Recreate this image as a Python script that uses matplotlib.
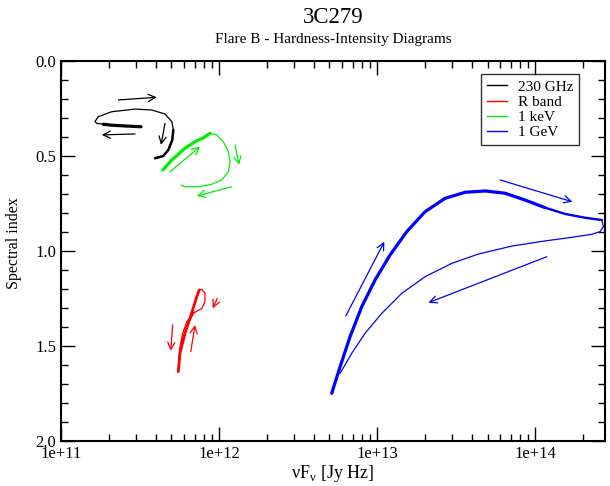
#!/usr/bin/env python3
import numpy as np
import matplotlib
matplotlib.use("Agg")
import matplotlib.pyplot as plt
from matplotlib.ticker import FuncFormatter, LogLocator, MultipleLocator, NullFormatter

plt.rcParams["font.family"] = ["Liberation Serif", "DejaVu Serif"]
plt.rcParams["mathtext.fontset"] = "custom"
plt.rcParams["mathtext.rm"] = "Liberation Serif"

# ---- data (log10 of nuFnu, spectral index) ----
mm_logf = [11.506, 11.405, 11.321, 11.268, 11.226, 11.215, 11.236, 11.321, 11.468,
           11.574, 11.658, 11.701, 11.711, 11.704, 11.679, 11.647, 11.595]
mm_alpha = [0.346, 0.342, 0.338, 0.333, 0.328, 0.319, 0.293, 0.267, 0.253,
            0.258, 0.279, 0.319, 0.363, 0.416, 0.468, 0.500, 0.512]

xr_logf = [11.644, 11.701, 11.785, 11.848, 11.901, 11.943, 11.985, 12.027,
           12.059, 12.070, 12.059, 12.017, 11.954, 11.869, 11.785, 11.759]
xr_alpha = [0.574, 0.521, 0.459, 0.425, 0.404, 0.381, 0.389, 0.425,
            0.477, 0.530, 0.583, 0.626, 0.649, 0.662, 0.662, 0.653]

opt_logf = [11.742, 11.753, 11.785, 11.827, 11.859, 11.875, 11.891, 11.911,
            11.911, 11.891, 11.837, 11.796, 11.770, 11.753, 11.744,
            11.759, 11.791, 11.842]
opt_alpha = [1.635, 1.537, 1.432, 1.326, 1.241, 1.205, 1.202, 1.223,
             1.267, 1.302, 1.328, 1.372, 1.433, 1.504, 1.600,
             1.495, 1.405, 1.321]

gam_logf = [12.713, 12.766, 12.829, 12.903, 12.987, 13.082, 13.188, 13.304,
            13.430, 13.557, 13.684, 13.810, 13.937, 14.063, 14.190, 14.316,
            14.422, 14.432, 14.411, 14.359, 14.232, 14.063, 13.853, 13.641,
            13.473, 13.304, 13.156, 13.030, 12.924, 12.840, 12.766]
gam_alpha = [1.749, 1.609, 1.451, 1.293, 1.153, 1.021, 0.898, 0.793,
             0.723, 0.691, 0.684, 0.696, 0.732, 0.772, 0.805, 0.825,
             0.837, 0.872, 0.898, 0.912, 0.928, 0.947, 0.974, 1.016,
             1.065, 1.135, 1.223, 1.328, 1.433, 1.538, 1.644]

# arrows: (logf start, alpha start, logf end, alpha end)
mm_arrows = [(11.363, 0.205, 11.606, 0.191),
             (11.658, 0.328, 11.633, 0.442),
             (11.468, 0.384, 11.258, 0.389)]
xr_arrows = [(11.690, 0.583, 11.880, 0.451),
             (12.101, 0.442, 12.127, 0.547),
             (12.080, 0.662, 11.859, 0.711)]
opt_arrows = [(11.707, 1.389, 11.694, 1.526),
              (11.821, 1.530, 11.848, 1.389),
              (11.989, 1.249, 11.960, 1.302)]
gam_arrows = [(12.802, 1.342, 13.046, 0.951),
              (13.778, 0.626, 14.236, 0.741),
              (14.074, 1.030, 13.325, 1.272)]

labels = ["230 GHz", "R band", "1 keV", "1 GeV"]
colors = ["black", "red", "#00ee00", "blue"]


def draw_track(ax, logf, alpha, color, thick, lw_thin=0.9):
    x = 10 ** np.array(logf)
    y = np.array(alpha)
    ax.plot(x, y, color=color, lw=lw_thin, solid_capstyle="round",
            solid_joinstyle="round")
    for sl, lw in thick:
        ax.plot(x[sl], y[sl], color=color, lw=lw, solid_capstyle="round",
                solid_joinstyle="round")


def draw_arrows(ax, arrows, color):
    for x0, y0, x1, y1 in arrows:
        ax.annotate("", xy=(10 ** x1, y1), xytext=(10 ** x0, y0),
                    arrowprops=dict(arrowstyle="->", color=color, lw=0.9,
                                    mutation_scale=13, shrinkA=0, shrinkB=0))


fig = plt.figure(figsize=(6.1, 4.86), dpi=100)
ax = fig.add_axes([0.1, 0.0926, 0.892, 0.7819])

draw_track(ax, mm_logf, mm_alpha, colors[0],
           [(slice(0, 4), 2.3), (slice(12, 17), 1.8)])
draw_track(ax, opt_logf, opt_alpha, colors[1], [(slice(0, 6), 2.0)])
draw_track(ax, xr_logf, xr_alpha, colors[2], [(slice(0, 6), 2.3)])
draw_track(ax, gam_logf, gam_alpha, colors[3],
           [(slice(0, 14), 2.3), (slice(13, 17), 1.7)])

draw_arrows(ax, mm_arrows, colors[0])
draw_arrows(ax, opt_arrows, colors[1])
draw_arrows(ax, xr_arrows, colors[2])
draw_arrows(ax, gam_arrows, colors[3])

for lab, c in zip(labels, colors):
    ax.plot([], [], color=c, lw=1.0, label=lab)

ax.set_xscale("log")
ax.set_xlim(1e11, 10 ** 14.443)
ax.set_ylim(2.0, 0.0)
ax.xaxis.set_major_locator(LogLocator(base=10, numticks=10))
ax.xaxis.set_minor_locator(LogLocator(base=10, subs=np.arange(2, 10), numticks=20))
ax.xaxis.set_major_formatter(FuncFormatter(lambda v, p: "1e+%d" % round(np.log10(v))))
ax.xaxis.set_minor_formatter(NullFormatter())
ax.yaxis.set_major_locator(MultipleLocator(0.5))
ax.yaxis.set_minor_locator(MultipleLocator(0.1))
ax.yaxis.set_major_formatter(FuncFormatter(lambda v, p: "%.1f" % v))

ax.tick_params(which="both", direction="in", top=True, right=True, labelsize=12)
ax.tick_params(which="major", length=10, width=1)
ax.tick_params(which="minor", length=5, width=1)
for s in ax.spines.values():
    s.set_linewidth(1.5)

ax.set_xlabel(r"νF$_\mathregular{ν}$ [Jy Hz]", fontsize=13, labelpad=1)
ax.set_ylabel("Spectral index", fontsize=11.5)
ax.yaxis.set_label_coords(-0.071, 0.521)

fig.text(0.546, 0.965, "3C279", ha="center", va="center", fontsize=16.5)
fig.text(0.546, 0.919, "Flare B - Hardness-Intensity Diagrams", ha="center",
         va="center", fontsize=11)

leg = ax.legend(loc="upper right", bbox_to_anchor=(0.952, 0.966), fontsize=11,
                frameon=True, fancybox=False, handlelength=1.3,
                borderaxespad=0, borderpad=0.4, labelspacing=0.1,
                handletextpad=0.7)
leg.get_frame().set_edgecolor("black")
leg.get_frame().set_linewidth(1.0)

fig.savefig("out.png", dpi=100)
